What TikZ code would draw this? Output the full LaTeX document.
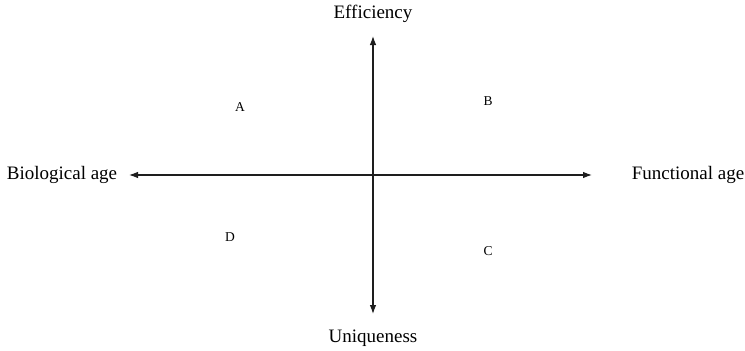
\documentclass[tikz,border=0pt]{standalone}
\usepackage{fontspec}
\setmainfont{Liberation Serif}
\usetikzlibrary{arrows.meta}
\definecolor{axisgray}{RGB}{30, 30, 30}
\tikzset{
  axislabel/.style={font=\fontsize{19}{22}\selectfont, inner sep=0pt},
  quadlabel/.style={font=\fontsize{13.5}{16}\selectfont, inner sep=0pt},
  axisline/.style={axisgray, line width=1.1pt, {Latex[length=9pt,width=6.5pt]}-{Latex[length=9pt,width=6.5pt]}}
}

\begin{document}
\begin{tikzpicture}[x=1pt, y=-1pt]
      \useasboundingbox (0,0) rectangle (745,351);
      \node[axislabel] (eff) at (373,14) {Efficiency};
      \node[axislabel] (uniq) at (373,338) {Uniqueness};
      \node[axislabel] (bio) at (62,175) {Biological age};
      \node[axislabel] (func) at (688,175) {Functional age};
      \coordinate (top) at (373,36);
      \coordinate (bottom) at (373,314);
      \coordinate (left) at (129,175);
      \coordinate (right) at (592,175);
      \draw[axisline] (bottom) -- (top);
      \draw[axisline] (left) -- (right);
      \node[quadlabel] (qa) at (240,107) {A};
      \node[quadlabel] (qb) at (488,101) {B};
      \node[quadlabel] (qc) at (488,251) {C};
      \node[quadlabel] (qd) at (230,237) {D};
    \end{tikzpicture}
\end{document}
